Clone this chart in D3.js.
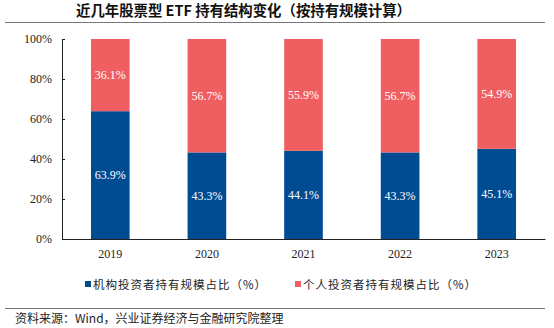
<!DOCTYPE html>
<html lang="zh">
<head>
<meta charset="UTF-8">
<title>近几年股票型ETF持有结构变化</title>
<script src="https://cdn.jsdelivr.net/npm/d3@7"></script>
<style>
  body { margin: 0; background: #fff; }
  svg { display: block; }
</style>
</head>
<body>
<svg width="554" height="328"></svg>
<script>
// 数据
const years = ['2019', '2020', '2021', '2022', '2023']
const institution = [63.9, 43.3, 44.1, 43.3, 45.1]   // 机构投资者持有规模占比
const individual = [36.1, 56.7, 55.9, 56.7, 54.9]    // 个人投资者持有规模占比
const yTicks = [0, 20, 40, 60, 80, 100]
const seriesNames = ['机构投资者持有规模占比（%）', '个人投资者持有规模占比（%）']
const colors = ['#004C93', '#EF5F61']

const svg = d3.select('svg')
const serif = '"Liberation Serif", "Times New Roman", serif'
const cjk = '"Noto Sans CJK SC", sans-serif'

// 标题
svg.append('text')
  .attr('x', 76).attr('y', 16)
  .attr('font-family', cjk).attr('font-weight', 'bold')
  .attr('font-size', 14.4).attr('fill', '#111')
  .text('近几年股票型 ETF 持有结构变化（按持有规模计算）')

svg.append('line')
  .attr('x1', 5).attr('x2', 545).attr('y1', 22.5).attr('y2', 22.5)
  .attr('stroke', '#777').attr('stroke-width', 1)

const x = d3.scaleBand().domain(years).range([62, 545]).paddingInner(0.6).paddingOuter(0.3)
const y = d3.scaleLinear().domain([0, 100]).range([239, 39])

// 堆叠
const rows = years.map((yr, i) => ({ year: yr, a: institution[i], b: individual[i] }))
const stack = d3.stack().keys(['a', 'b'])(rows)

const g = svg.append('g')
g.selectAll('g.layer')
  .data(stack)
  .enter()
  .append('g')
  .attr('fill', (d, i) => colors[i])
  .selectAll('rect')
  .data(d => d)
  .enter()
  .append('rect')
  .attr('x', d => x(d.data.year))
  .attr('width', x.bandwidth())
  .attr('y', d => y(d[1]))
  .attr('height', d => y(d[0]) - y(d[1]))

// 数值标签
stack.forEach(layer => {
  g.selectAll(null)
    .data(layer)
    .enter()
    .append('text')
    .attr('x', d => x(d.data.year) + x.bandwidth() / 2)
    .attr('y', d => (y(d[0]) + y(d[1])) / 2 + 4)
    .attr('text-anchor', 'middle')
    .attr('font-family', serif).attr('font-size', 12)
    .attr('fill', '#fff')
    .text(d => (d[1] - d[0]).toFixed(1) + '%')
})

// 坐标轴
const yAxis = svg.append('g')
  .attr('transform', 'translate(62,0)')
  .call(d3.axisLeft(y).tickValues(yTicks).tickFormat(d => d + '%').tickSize(-3).tickPadding(10))
yAxis.select('.domain').attr('stroke', '#222')
yAxis.selectAll('.tick line').attr('stroke', '#222')
yAxis.selectAll('text').attr('font-family', serif).attr('font-size', 12).attr('fill', '#222')

const xAxis = svg.append('g')
  .attr('transform', 'translate(0,239)')
  .call(d3.axisBottom(x).tickSize(0).tickPadding(10))
xAxis.select('.domain').attr('stroke', '#222')
xAxis.selectAll('text').attr('font-family', serif).attr('font-size', 12).attr('fill', '#222')

// 图例
const legendX = [85, 295]
seriesNames.forEach((name, i) => {
  svg.append('rect')
    .attr('x', legendX[i]).attr('y', 281)
    .attr('width', 6).attr('height', 6)
    .attr('fill', colors[i])
  svg.append('text')
    .attr('x', legendX[i] + 8).attr('y', 289)
    .attr('font-family', cjk).attr('font-size', 11.5)
    .attr('letter-spacing', 1)
    .attr('fill', '#222')
    .text(name)
})

// 资料来源
svg.append('line')
  .attr('x1', 5).attr('x2', 545).attr('y1', 308.5).attr('y2', 308.5)
  .attr('stroke', '#777').attr('stroke-width', 1)
svg.append('text')
  .attr('x', 15).attr('y', 323)
  .attr('font-family', cjk).attr('font-size', 12)
  .attr('fill', '#222')
  .text('资料来源：Wind，兴业证券经济与金融研究院整理')
</script>
</body>
</html>
